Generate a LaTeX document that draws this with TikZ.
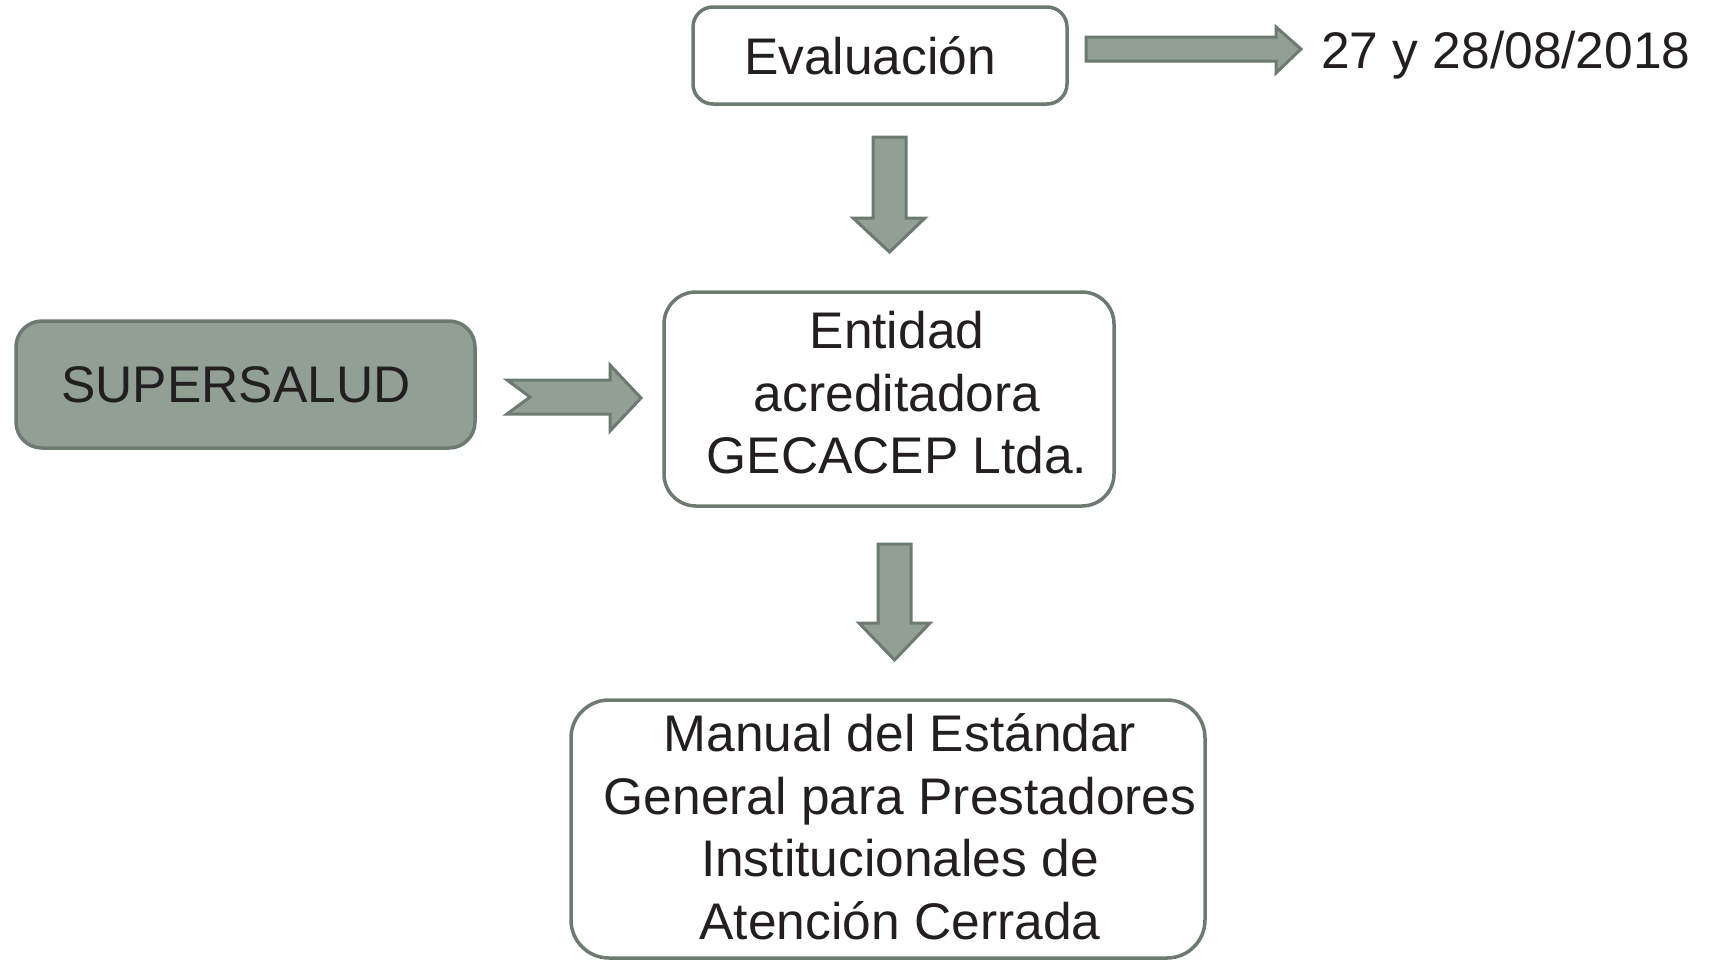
\documentclass[tikz,border=0pt]{standalone}
\usepackage{fontspec}
\setmainfont{Liberation Sans}
\definecolor{boxline}{HTML}{6D7A70}
\definecolor{boxfill}{HTML}{919F94}
\definecolor{txt}{HTML}{231F20}
\begin{document}
\begin{tikzpicture}[x=1pt,y=-1pt,
  box/.style={draw=boxline, line width=3.5pt, inner sep=0pt},
  blockarrow/.style={draw=boxline, fill=boxfill, line width=3pt, line join=miter},
  lbl/.style={text=txt, font=\fontsize{51.5}{62.5}\selectfont, inner sep=0pt, align=center}]
\useasboundingbox (0,0) rectangle (1709,964);
\node[box, rounded corners=20pt, minimum width=374pt, minimum height=97pt] (eval) at (880,55.5) {};
\node[box, rounded corners=26pt, fill=boxfill, minimum width=459pt, minimum height=127pt] (super) at (245.5,384.5) {};
\node[box, rounded corners=32pt, minimum width=450pt, minimum height=214pt] (ent) at (889,399) {};
\node[box, rounded corners=38pt, minimum width=634pt, minimum height=258pt] (man) at (888,829) {};
\node[lbl] (evalt) at (870,55.5) {Evaluación};
\node[lbl] (supert) at (236,384.5) {SUPERSALUD};
\node[lbl] (entt) at (897,393) {Entidad\\acreditadora\\GECACEP Ltda.};
\node[lbl] (mant) at (900,827) {Manual del Estándar\\General para Prestadores\\Institucionales de\\Atención Cerrada};
\node[lbl, anchor=base west] (date) at (1321,68) {27 y 28/08/2018};
% right arrow
\draw[blockarrow] (1086,37) -- (1276,37) -- (1276,27) -- (1301,49) -- (1276,73) -- (1276,61) -- (1086,61) -- cycle;
% down arrow 1
\draw[blockarrow] (873,137) -- (906,137) -- (906,218) -- (925,218) -- (889.5,252) -- (853,218) -- (873,218) -- cycle;
% down arrow 2
\draw[blockarrow] (878,544) -- (911,544) -- (911,623) -- (930,623) -- (894.5,660) -- (859,623) -- (878,623) -- cycle;
% notched arrow
\draw[blockarrow] (507,380) -- (610,380) -- (610,365) -- (641,398) -- (610,431) -- (610,414) -- (507,414) -- (530,397) -- cycle;
\end{tikzpicture}
\end{document}
